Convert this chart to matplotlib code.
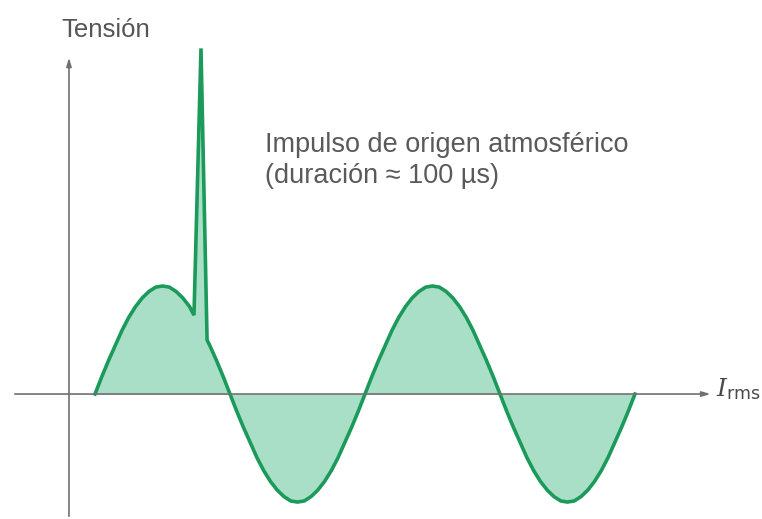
import matplotlib
matplotlib.use("Agg")
import matplotlib.pyplot as plt

# tiempo en ms (50 Hz, muestras cada 0.5 ms + el impulso), tension en p.u.
t_ms = [i * 0.5 for i in range(15)] + [7.33, 7.85, 8.3] + [i * 0.5 for i in range(17, 81)]
tension = (
    [0, 0.16, 0.31, 0.45, 0.59, 0.71, 0.81, 0.89, 0.95, 0.99, 1.0, 0.99, 0.95, 0.89, 0.81]
    + [0.73, 3.2, 0.5]  # impulso
    + [0.45, 0.31, 0.16]
    + [0, -0.16, -0.31, -0.45, -0.59, -0.71, -0.81, -0.89, -0.95, -0.99,
       -1.0, -0.99, -0.95, -0.89, -0.81, -0.71, -0.59, -0.45, -0.31, -0.16]
    + [0, 0.16, 0.31, 0.45, 0.59, 0.71, 0.81, 0.89, 0.95, 0.99,
       1.0, 0.99, 0.95, 0.89, 0.81, 0.71, 0.59, 0.45, 0.31, 0.16]
    + [0, -0.16, -0.31, -0.45, -0.59, -0.71, -0.81, -0.89, -0.95, -0.99,
       -1.0, -0.99, -0.95, -0.89, -0.81, -0.71, -0.59, -0.45, -0.31, -0.16]
    + [0]
)

ylabel = "Tensión"
xlabel = r"$I_{\mathsf{rms}}$"
nota = "Impulso de origen atmosférico\n(duración ≈ 100 µs)"

verde = "#1b9a5b"
relleno = "#aadfc7"
gris = "#707070"

plt.rcParams["mathtext.fontset"] = "dejavuserif"

fig = plt.figure(figsize=(7.62, 5.19), dpi=100)
ax = fig.add_axes([0, 0, 1, 1])
ax.set_xlim(-7.04, 49.41)
ax.set_ylim(-1.157, 3.648)
ax.axis("off")

# ejes con flecha
ax.annotate("", xy=(-1.93, 3.14), xytext=(-1.93, -1.157),
            arrowprops=dict(arrowstyle="-|>,head_length=0.5,head_width=0.15",
                            color=gris, lw=1.2))
ax.annotate("", xy=(45.8, 0), xytext=(-6.15, 0),
            arrowprops=dict(arrowstyle="-|>,head_length=0.5,head_width=0.15",
                            color=gris, lw=1.2))

ax.fill_between(t_ms, tension, 0, color=relleno, lw=0)
ax.plot(t_ms, tension, color=verde, lw=2.6, solid_joinstyle="miter")

ax.text(-2.5, 3.37, ylabel, fontsize=18.5, color="#555555",
        family="Liberation Sans", va="center", ha="left")
ax.text(46.0, 0.05, xlabel, fontsize=18, color="#4a4a4a",
        va="center", ha="left")
ax.text(12.6, 2.43, nota, fontsize=19.5, color="#5a5a5a",
        family="Liberation Sans", va="top", ha="left", linespacing=1.25)

fig.savefig("out.png", dpi=100, facecolor="white")
